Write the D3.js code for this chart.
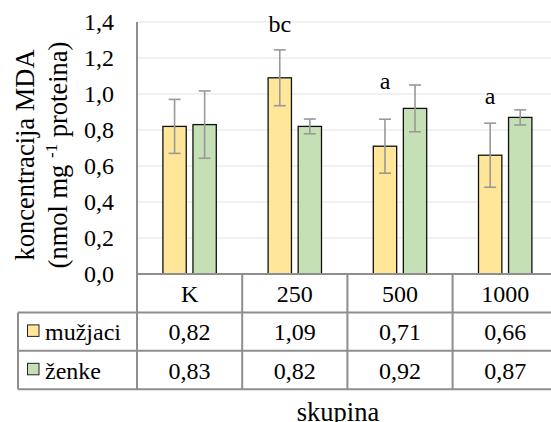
<!DOCTYPE html>
<html>
<head>
<meta charset="utf-8">
<script src="https://cdn.jsdelivr.net/npm/d3@7"></script>
</head>
<body style="margin:0">
<svg id="chart" width="551" height="422"></svg>
<script>
// ---- data ----
const categories = ["K", "250", "500", "1000"];
const seriesNames = ["mužjaci", "ženke"];
const maleValues = [0.82, 1.09, 0.71, 0.66];
const femaleValues = [0.83, 0.82, 0.92, 0.87];
const maleErrors = [0.15, 0.155, 0.15, 0.178];
const femaleErrors = [0.187, 0.041, 0.13, 0.042];
const maleLabels = ["0,82", "1,09", "0,71", "0,66"];
const femaleLabels = ["0,83", "0,82", "0,92", "0,87"];
const yTicks = [0, 0.2, 0.4, 0.6, 0.8, 1.0, 1.2, 1.4];
const annotations = [
  { category: "250", series: "mužjaci", text: "bc", at: 1.343 },
  { category: "500", series: "mužjaci", text: "a", at: 1.026 },
  { category: "1000", series: "mužjaci", text: "a", at: 0.943 }
];
const colors = { "mužjaci": "#FFE699", "ženke": "#C5E0B4" };

const series = [
  { name: seriesNames[0], values: maleValues, errors: maleErrors, labels: maleLabels },
  { name: seriesNames[1], values: femaleValues, errors: femaleErrors, labels: femaleLabels }
];

const FONT = "'Liberation Serif'";

// ---- layout ----
const svg = d3.select("#chart");
const plotLeft = 137, plotTop = 22, plotBottom = 274;
const catWidth = 105.2;
const plotRight = plotLeft + catWidth * categories.length;
const rowH = 38.4;
const tableLeft = 18;
const lineColor = "#8e8e8e";

const x = d3.scaleBand().domain(categories).range([plotLeft, plotRight]).padding(0);
const x1 = d3.scaleBand().domain(seriesNames).range([-26.7, 26.7]).paddingInner(0.223).paddingOuter(0);
const y = d3.scaleLinear().domain([0, 1.4]).range([plotBottom, plotTop]);

// gridlines
svg.append("g").selectAll("line").data(yTicks.filter(d => d > 0)).join("line")
  .attr("x1", plotLeft).attr("x2", plotRight)
  .attr("y1", d => y(d)).attr("y2", d => y(d))
  .attr("stroke", "#e3e3e3").attr("stroke-width", 1.2);

// y tick labels via axis
const yAxis = d3.axisLeft(y).tickValues(yTicks).tickSize(0).tickPadding(0)
  .tickFormat(d => d3.format(".1f")(d).replace(".", ","));
const gy = svg.append("g").attr("transform", `translate(${plotLeft - 23},0)`).call(yAxis);
gy.attr("font-family", null).attr("font-size", null);
gy.select(".domain").remove();
gy.selectAll("text").attr("fill", "#000").attr("font-family", FONT).attr("font-size", 24);

// bars
const cx = c => x(c) + x.bandwidth() / 2;
const barsG = svg.append("g");
series.forEach(s => {
  barsG.append("g").selectAll("rect").data(categories).join("rect")
    .attr("x", (c) => cx(c) + x1(s.name))
    .attr("width", x1.bandwidth())
    .attr("y", (c, i) => y(s.values[i]))
    .attr("height", (c, i) => y(0) - y(s.values[i]))
    .attr("fill", colors[s.name])
    .attr("stroke", "#111").attr("stroke-width", 1.3);
});

// error bars
const errG = svg.append("g").attr("stroke", "#999").attr("stroke-width", 1.6).attr("fill", "none");
series.forEach(s => {
  categories.forEach((c, i) => {
    const xc = cx(c) + x1(s.name) + x1.bandwidth() / 2;
    const hi = y(s.values[i] + s.errors[i]);
    const lo = y(s.values[i] - s.errors[i]);
    errG.append("line").attr("x1", xc).attr("x2", xc).attr("y1", hi).attr("y2", lo);
    errG.append("line").attr("x1", xc - 6).attr("x2", xc + 6).attr("y1", hi).attr("y2", hi);
    errG.append("line").attr("x1", xc - 6).attr("x2", xc + 6).attr("y1", lo).attr("y2", lo);
  });
});

// annotations
svg.append("g").selectAll("text").data(annotations).join("text")
  .attr("x", d => cx(d.category) + x1(d.series) + x1.bandwidth() / 2)
  .attr("y", d => y(d.at))
  .attr("text-anchor", "middle")
  .attr("font-family", FONT).attr("font-size", 24)
  .text(d => d.text);

// ---- table ----
const row0 = plotBottom, row1 = row0 + rowH, row2 = row1 + rowH, row3 = row2 + rowH;
const tg = svg.append("g").attr("stroke", lineColor).attr("stroke-width", 2);
tg.append("line").attr("x1", plotLeft).attr("x2", plotRight).attr("y1", row0).attr("y2", row0);
[row1, row2, row3].forEach(r => tg.append("line").attr("x1", tableLeft).attr("x2", plotRight).attr("y1", r).attr("y2", r));
tg.append("line").attr("x1", plotLeft).attr("x2", plotLeft).attr("y1", plotTop).attr("y2", row3);
tg.append("line").attr("x1", tableLeft).attr("x2", tableLeft).attr("y1", row1).attr("y2", row3);
tg.selectAll("line.sep").data(categories.slice(1)).join("line").attr("class", "sep")
  .attr("x1", c => x(c)).attr("x2", c => x(c)).attr("y1", row0).attr("y2", row3);

// category labels
svg.append("g").selectAll("text").data(categories).join("text")
  .attr("x", c => cx(c)).attr("y", (row0 + row1) / 2 + 8.5)
  .attr("text-anchor", "middle").attr("font-family", FONT).attr("font-size", 24).text(c => c);

// values + legend keys
series.forEach((s, si) => {
  const ry = row1 + rowH * si + rowH / 2 + 8.5;
  svg.append("g").selectAll("text").data(categories).join("text")
    .attr("x", c => cx(c)).attr("y", ry)
    .attr("text-anchor", "middle").attr("font-family", FONT).attr("font-size", 24)
    .text((c, i) => s.labels[i]);
  svg.append("rect").attr("x", 27.5).attr("y", row1 + rowH * si + 12.5)
    .attr("width", 11.5).attr("height", 11.5)
    .attr("fill", colors[s.name]).attr("stroke", "#222").attr("stroke-width", 1);
  svg.append("text").attr("x", 45).attr("y", ry).attr("font-family", FONT).attr("font-size", 24).text(s.name);
});

// axis titles
const yt = svg.append("g").attr("transform", "translate(0,155) rotate(-90)");
yt.append("text").attr("x", 0).attr("y", 33.5).attr("text-anchor", "middle")
  .attr("font-family", FONT).attr("font-size", 26.5).text("koncentracija MDA");
const t2 = yt.append("text").attr("x", 0).attr("y", 66.5).attr("text-anchor", "middle")
  .attr("font-family", FONT).attr("font-size", 26.5);
t2.append("tspan").text("(nmol mg ");
t2.append("tspan").attr("dy", -10).attr("font-size", 17).text("-1");
t2.append("tspan").attr("dy", 10).text(" proteina)");

svg.append("text").attr("x", 338).attr("y", 421).attr("text-anchor", "middle")
  .attr("font-family", FONT).attr("font-size", 26.5).text("skupina");
</script>
</body>
</html>
